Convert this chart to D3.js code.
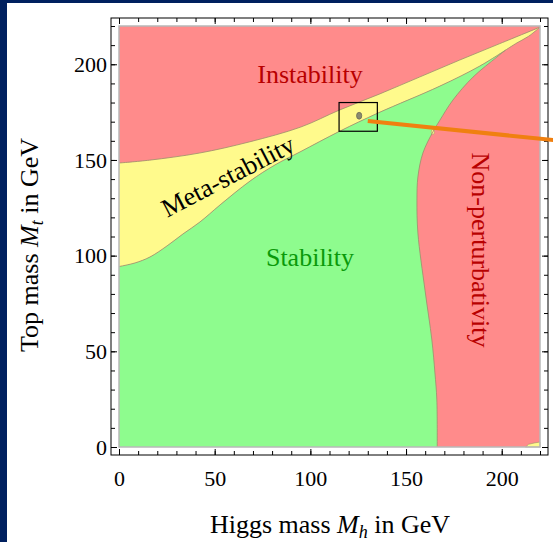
<!DOCTYPE html>
<html><head><meta charset="utf-8">
<script src="https://cdn.jsdelivr.net/npm/d3@7"></script>
<style>html,body{margin:0;padding:0;background:#00205f;}svg{display:block;}</style>
</head><body>
<script>
// ---- data (Mh, Mt in GeV) ----
const xMajorTicks = [0, 50, 100, 150, 200];
const yMajorTicks = [0, 50, 100, 150, 200];
const minorTicks = [0,10,20,30,40,50,60,70,80,90,100,110,120,130,140,150,160,170,180,190,200,210,220];
const upperBoundary = [[0,148.4],[16,149.9],[42,153.6],[68,159.4],[95,167.2],[115,176],[136,184.4],[157,193.3],[178,202.2],[199,210.8],[220,219.4]];
const stripLower = [[220,219.4],[214,214.6],[208,211.2],[202,207.4]];
const stabilityBoundary = [[0,94.3],[8.4,96.2],[16.2,99.3],[25.1,105.1],[33.4,111.3],[42.3,117.6],[52.8,126.5],[68.5,139],[81.5,147.4],[94.6,154.2],[115.5,165.1],[135.3,174.5],[167.7,188.6],[188.6,199.1],[202,207.4]];
const nonPertBoundary = [[202,207.4],[197.5,203.8],[185,193.3],[174.5,181.3],[167.7,170.8],[164,164.6],[158.8,153.6],[156.2,141.1],[155.7,129],[156.2,111.8],[159.9,82],[163.5,55.9],[165.1,38.7],[166.1,24.6],[166.3,0]];
const cornerBump = [[212.5,0],[214,1.4],[217,2.1],[220,2.6],[220,0]];
const measuredPoint = [125.5, 173.1];
const zoomBox = [[115,165],[135,180]];
const pointerLine = [[130,170.3],[227,160.4]];
const regionLabels = ["Instability", "Stability", "Meta-stability", "Non-perturbativity"];

const W = 553, H = 542;
const svg = d3.select("body").append("svg").attr("width", W).attr("height", H);
svg.append("rect").attr("width", W).attr("height", H).attr("fill", "#00205f");
svg.append("rect").attr("x", 7).attr("y", 3).attr("width", W - 7).attr("height", H - 3).attr("fill", "#fff");

const x = d3.scaleLinear().domain([0, 220]).range([119, 540]);
const y = d3.scaleLinear().domain([0, 220]).range([447, 26]);
const pad = 8;
const fx0 = x(0) - pad, fx1 = x(220) + pad, fy0 = y(220) - pad, fy1 = y(0) + pad;

const lineCR = d3.line().x(d => x(d[0])).y(d => y(d[1])).curve(d3.curveCatmullRom.alpha(0.5));
const lineLin = d3.line().x(d => x(d[0])).y(d => y(d[1]));
const join = (...parts) => parts.map((p, i) => i === 0 ? p : p.replace(/^M/, "L")).join("");

const colRed = "#ff8b8b", colYellow = "#fffa8c", colGreen = "#8efc8e";
const edge = "#9c8f6c";

svg.append("rect").attr("x", x(0)).attr("y", y(220)).attr("width", x(220) - x(0)).attr("height", y(0) - y(220))
  .attr("fill", colRed);

svg.append("path")
  .attr("d", join(lineCR(upperBoundary), lineCR(stripLower), lineCR(stabilityBoundary.slice().reverse())) + "Z")
  .attr("fill", colYellow);

svg.append("path")
  .attr("d", join(lineCR(stabilityBoundary), lineCR(nonPertBoundary), lineLin([[166.3,0],[0,0]])) + "Z")
  .attr("fill", colGreen);

svg.append("path").attr("d", lineLin(cornerBump) + "Z").attr("fill", colYellow).attr("stroke", edge).attr("stroke-width", 0.6);
svg.append("ellipse").attr("cx", x(164)).attr("cy", y(164.6)).attr("rx", 1.6).attr("ry", 2.5).attr("fill", colYellow).attr("stroke", edge).attr("stroke-width", 0.5);

[upperBoundary, stripLower, stabilityBoundary, nonPertBoundary].forEach(b => {
  svg.append("path").attr("d", lineCR(b)).attr("fill", "none").attr("stroke", edge).attr("stroke-width", 1).attr("stroke-opacity", 0.8);
});

svg.append("rect").attr("x", x(0)).attr("y", y(220)).attr("width", x(220) - x(0)).attr("height", y(0) - y(220))
  .attr("fill", "none").attr("stroke", "#b8b8b8").attr("stroke-width", 1.5);

svg.append("rect").attr("x", fx0).attr("y", fy0).attr("width", fx1 - fx0).attr("height", fy1 - fy0)
  .attr("fill", "none").attr("stroke", "#000").attr("stroke-width", 1);

const font = "'Liberation Serif', 'Times New Roman', serif";
function styleAxis(g) {
  g.select(".domain").remove();
  g.selectAll("line").attr("stroke", "#000").attr("stroke-width", 1);
  g.selectAll("text").attr("font-family", font).attr("font-size", 22).attr("fill", "#000");
}
svg.append("g").attr("transform", `translate(0,${fy1})`).call(d3.axisBottom(x).tickValues(minorTicks).tickSize(-4).tickFormat("")).call(styleAxis);
svg.append("g").attr("transform", `translate(0,${fy1})`).call(d3.axisBottom(x).tickValues(xMajorTicks).tickSize(-6).tickPadding(15).tickFormat(d3.format("d"))).call(styleAxis);
svg.append("g").attr("transform", `translate(0,${fy0})`).call(d3.axisTop(x).tickValues(minorTicks).tickSize(-4).tickFormat("")).call(styleAxis);
svg.append("g").attr("transform", `translate(0,${fy0})`).call(d3.axisTop(x).tickValues(xMajorTicks).tickSize(-6).tickFormat("")).call(styleAxis);
svg.append("g").attr("transform", `translate(${fx0},0)`).call(d3.axisLeft(y).tickValues(minorTicks).tickSize(-4).tickFormat("")).call(styleAxis);
svg.append("g").attr("transform", `translate(${fx0},0)`).call(d3.axisLeft(y).tickValues(yMajorTicks).tickSize(-6).tickPadding(4).tickFormat(d3.format("d"))).call(styleAxis);
svg.append("g").attr("transform", `translate(${fx1},0)`).call(d3.axisRight(y).tickValues(minorTicks).tickSize(-4).tickFormat("")).call(styleAxis);
svg.append("g").attr("transform", `translate(${fx1},0)`).call(d3.axisRight(y).tickValues(yMajorTicks).tickSize(-6).tickFormat("")).call(styleAxis);

const xt = svg.append("text").attr("x", 330).attr("y", 533).attr("text-anchor", "middle")
  .attr("font-family", font).attr("font-size", 26).attr("fill", "#000");
xt.append("tspan").text("Higgs mass ");
xt.append("tspan").attr("font-style", "italic").text("M");
xt.append("tspan").attr("font-style", "italic").attr("font-size", 18).attr("dy", 5).text("h");
xt.append("tspan").attr("dy", -5).text(" in GeV");

const yt = svg.append("text").attr("transform", "translate(38,245) rotate(-90)").attr("text-anchor", "middle")
  .attr("font-family", font).attr("font-size", 26).attr("fill", "#000");
yt.append("tspan").text("Top mass ");
yt.append("tspan").attr("font-style", "italic").text("M");
yt.append("tspan").attr("font-style", "italic").attr("font-size", 18).attr("dy", 5).text("t");
yt.append("tspan").attr("dy", -5).text(" in GeV");

svg.append("text").attr("x", 310).attr("y", 83).attr("text-anchor", "middle").attr("font-family", font)
  .attr("font-size", 26).attr("fill", "#b80000").text(regionLabels[0]);
svg.append("text").attr("x", 310).attr("y", 266).attr("text-anchor", "middle").attr("font-family", font)
  .attr("font-size", 26).attr("fill", "#0a9a0a").text(regionLabels[1]);
svg.append("text").attr("transform", "translate(232,184) rotate(-27.5)").attr("text-anchor", "middle").attr("font-family", font)
  .attr("font-size", 26).attr("fill", "#000").text(regionLabels[2]);
svg.append("text").attr("transform", "translate(472,250) rotate(90)").attr("text-anchor", "middle").attr("font-family", font)
  .attr("font-size", 26).attr("fill", "#b80000").text(regionLabels[3]);

svg.append("ellipse").attr("cx", x(measuredPoint[0])).attr("cy", y(measuredPoint[1])).attr("rx", 2.6).attr("ry", 3.4)
  .attr("fill", "#8a8a70").attr("stroke", "#6a6a55").attr("stroke-width", 0.8);
svg.append("rect").attr("x", x(zoomBox[0][0])).attr("y", y(zoomBox[1][1]))
  .attr("width", x(zoomBox[1][0]) - x(zoomBox[0][0])).attr("height", y(zoomBox[0][1]) - y(zoomBox[1][1]))
  .attr("fill", "none").attr("stroke", "#000").attr("stroke-width", 1.2);
svg.append("path").attr("d", lineLin(pointerLine)).attr("stroke", "#f08010").attr("stroke-width", 4).attr("fill", "none");
</script>
</body></html>
